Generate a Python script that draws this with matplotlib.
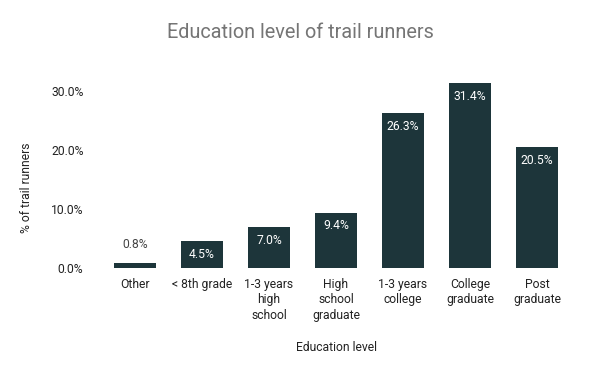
import matplotlib
matplotlib.use("Agg")
import matplotlib.pyplot as plt
from matplotlib.ticker import FuncFormatter

plt.rcParams['font.family'] = ['Roboto', 'DejaVu Sans']

categories = ["Other", "< 8th grade", "1-3 years\nhigh\nschool", "High\nschool\ngraduate",
              "1-3 years\ncollege", "College\ngraduate", "Post\ngraduate"]
values = [0.8, 4.5, 7.0, 9.4, 26.3, 31.4, 20.5]
yticks = [0, 10, 20, 30]

bar_color = "#1d353a"

fig = plt.figure(figsize=(6, 3.71), dpi=100)
ax = fig.add_axes([101.5/600, 103/371, 469/600, 206.5/371])
x = list(range(len(categories)))
ax.bar(x, values, width=0.64, color=bar_color)
ax.set_xlim(-0.5, len(categories) - 0.5)
ax.set_ylim(0, 35)

for xi, v in zip(x, values):
    if v > 3:
        ax.annotate(f"{v:.1f}%", (xi, v), xytext=(0, -5), textcoords="offset points",
                    ha="center", va="top", color="white", fontsize=8.7)
    else:
        ax.annotate(f"{v:.1f}%", (xi, v), xytext=(0, 9), textcoords="offset points",
                    ha="center", va="bottom", color="#444444", fontsize=8.7)

ax.set_yticks(yticks)
ax.yaxis.set_major_formatter(FuncFormatter(lambda v, p: f"{v:.1f}%"))
ax.set_xticks(x)
ax.set_xticklabels(categories, fontsize=8.7, color="#222222", linespacing=1.25)
ax.tick_params(axis='y', labelsize=8.7, labelcolor="#222222", length=0, pad=13)
ax.tick_params(axis='x', length=0, pad=7)
for s in ax.spines.values():
    s.set_visible(False)

ax.set_xlabel("Education level", fontsize=8.7, color="#222222", labelpad=14)
ax.set_ylabel("% of trail runners", fontsize=8.7, color="#222222")
ax.yaxis.set_label_coords(-0.145, 0.39)
fig.text(0.5, 1 - 32/371, "Education level of trail runners", ha="center", va="center",
         fontsize=14.3, color="#757575")

fig.savefig("out.png", dpi=100)
